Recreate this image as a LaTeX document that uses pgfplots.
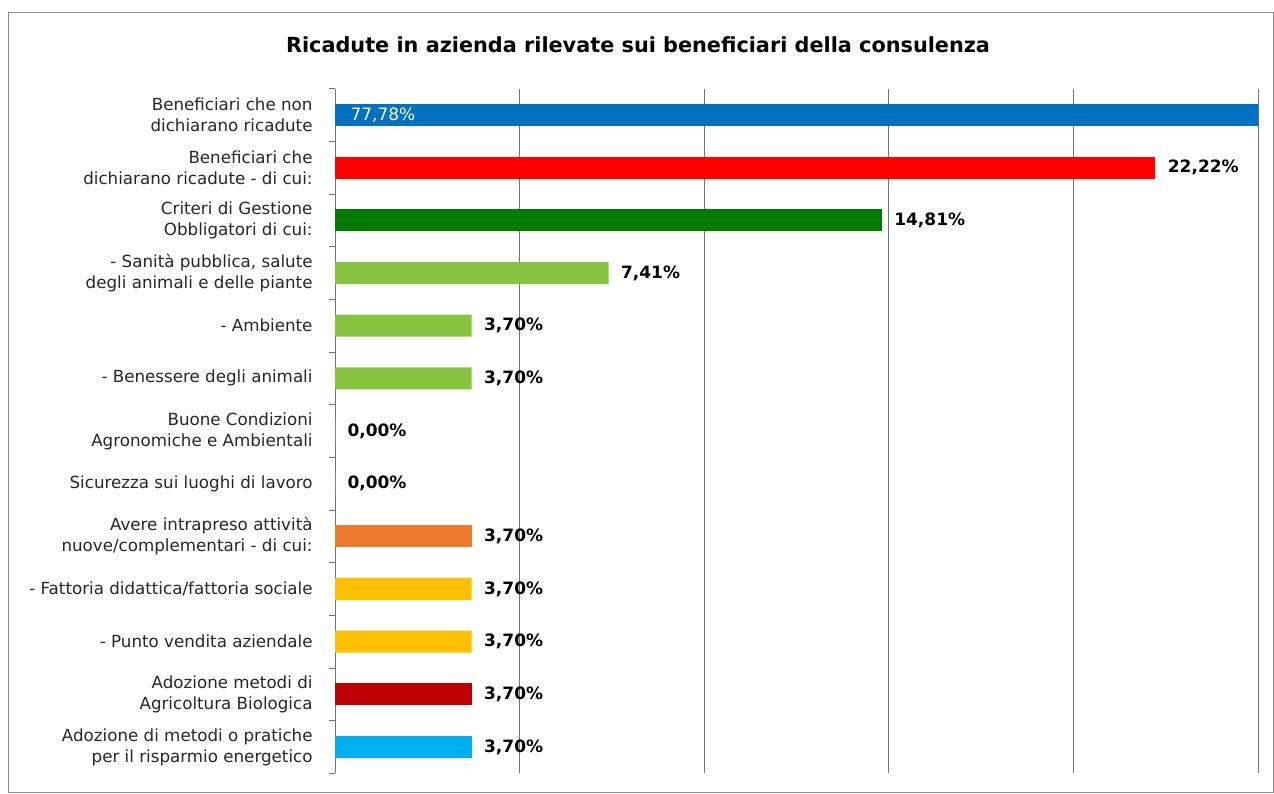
\documentclass[border=0pt]{standalone}
\usepackage{pgfplots}
\pgfplotsset{compat=1.18}
\usepackage{fontspec}
\setmainfont{DejaVu Sans}
\definecolor{cblue}{HTML}{0070C0}
\definecolor{cred}{HTML}{FF0000}
\definecolor{cdgreen}{HTML}{007A00}
\definecolor{clgreen}{HTML}{86C440}
\definecolor{corange}{HTML}{EE7A2C}
\definecolor{cgold}{HTML}{FFC000}
\definecolor{cdred}{HTML}{C00000}
\definecolor{clblue}{HTML}{00B0F0}
\begin{document}
\begin{tikzpicture}
\useasboundingbox (0pt,0pt) rectangle (1274pt,794pt);
\draw[black!45, line width=1pt] (8.5pt,1pt) rectangle (1273.5pt,781pt);
\node[font=\bfseries\fontsize{20.8}{24}\selectfont] at (638pt,749pt) {Ricadute in azienda rilevate sui beneficiari della consulenza};
\begin{axis}[
  at={(335pt,20.7pt)}, anchor=south west,
  scale only axis, width=923pt, height=684.6pt,
  xmin=0, xmax=25, ymin=-0.5, ymax=12.5,
  y dir=reverse,
  xbar, bar width=22pt, bar shift=0pt,
  separate axis lines,
  x axis line style={draw=none},
  y axis line style={draw=black!55, line width=1pt},
  xtick={0,5,10,15,20,25}, xticklabels={},
  xmajorgrids, major grid style={draw=black!55, line width=1pt},
  major x tick style={draw=none},
  ytick={0,...,12},
  major y tick style={draw=none},
  minor ytick={-0.5,0.5,...,12.5},
  minor tick length=6pt,
  minor y tick style={draw=black!55, line width=0.8pt},
  ytick pos=left, tick align=outside,
  yticklabel style={align=right, anchor=east, inner sep=0pt, xshift=-18pt,
     font=\fontsize{16.7}{21}\selectfont, text=black!85},
  yticklabels={
    {Beneficiari che non\\dichiarano ricadute},
    {Beneficiari che\\dichiarano ricadute - di cui:},
    {Criteri di Gestione\\Obbligatori di cui:},
    {- Sanità pubblica, salute\\degli animali e delle piante},
    {- Ambiente},
    {- Benessere degli animali},
    {Buone Condizioni\\Agronomiche e Ambientali},
    {Sicurezza sui luoghi di lavoro},
    {Avere intrapreso attività\\nuove/complementari - di cui:},
    {- Fattoria didattica/fattoria sociale},
    {- Punto vendita aziendale},
    {Adozione metodi di\\Agricoltura Biologica},
    {Adozione di metodi o pratiche\\per il risparmio energetico}},
  point meta=x,
  nodes near coords={\pgfmathprintnumber[fixed,fixed zerofill,precision=2,use comma,assume math mode=true]{\pgfplotspointmeta}\%},
  every node near coord/.append style={font=\bfseries\fontsize{17}{19}\selectfont, text=black, anchor=west, xshift=9pt},
  /pgf/number format/assume math mode=true,
]
\addplot[fill=cblue, draw=none, nodes near coords={}] coordinates {(77.78,0)};
\addplot[fill=cred, draw=none] coordinates {(22.22,1)};
\addplot[fill=cdgreen, draw=none] coordinates {(14.81,2)};
\addplot[fill=clgreen, draw=none] coordinates {(7.41,3) (3.70,4) (3.70,5)};
\addplot[fill=white, draw=none] coordinates {(0,6) (0,7)};
\addplot[fill=corange, draw=none] coordinates {(3.70,8)};
\addplot[fill=cgold, draw=none] coordinates {(3.70,9) (3.70,10)};
\addplot[fill=cdred, draw=none] coordinates {(3.70,11)};
\addplot[fill=clblue, draw=none] coordinates {(3.70,12)};
\node[anchor=west, text=white, font=\fontsize{17}{19}\selectfont, xshift=12pt] at (axis cs:0,0) {77,78\%};
\end{axis}
\end{tikzpicture}
\end{document}
